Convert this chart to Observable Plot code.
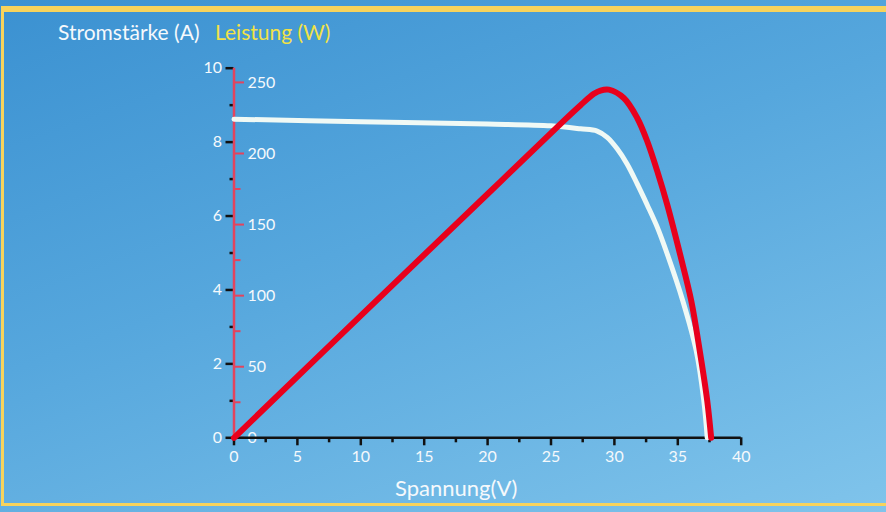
<!DOCTYPE html>
<html><head><meta charset="utf-8">
<script src="https://cdn.jsdelivr.net/npm/d3@7"></script>
<script src="https://cdn.jsdelivr.net/npm/@observablehq/plot@0.6"></script>
<style>
html,body{margin:0;padding:0;background:#4fa2da;}
#wrap{position:relative;width:886px;height:512px;overflow:hidden;
  background:linear-gradient(160deg,#3b91d1 0%,#56a7dd 45%,#80c4eb 100%);
  font-family:Lato,"DejaVu Sans",sans-serif;}
#frame{position:absolute;left:1px;top:6px;width:900px;height:491px;
  border-top:6px solid #f7d35c;border-left:3px solid #f7d35c;border-bottom:3px solid #f7d35c;}
.t{position:absolute;line-height:1;white-space:nowrap;}
#chart{position:absolute;left:0;top:0;}
</style></head>
<body>
<div id="wrap">
  <div id="frame"></div>
  <div id="chart"></div>
  <div class="t" id="t1" style="left:58px;top:21px;font-size:21px;color:#f5f9fc;">Stromstärke (A)</div>
  <div class="t" id="t2" style="left:215px;top:21px;font-size:21px;color:#f2e246;">Leistung (W)</div>
  <div class="t" id="t3" style="left:395px;top:477px;font-size:22px;color:#f5f9fc;">Spannung(V)</div>
</div>
<script>
// Current curve (I-V)
const voltI   = [0, 10, 20, 25, 27.33, 28.64, 29.43, 30.22, 31.0, 31.8, 32.59, 33.38, 34.16, 35.39, 36.45, 37.05, 37.32];
const current = [8.62, 8.55, 8.49, 8.44, 8.36, 8.30, 8.13, 7.82, 7.41, 6.87, 6.30, 5.70, 4.98, 3.71, 2.36, 1.01, 0];
// Power curve (P-V)
const voltP = [0, 10, 20, 26.0, 27.33, 28.38, 28.9, 29.56, 30.74, 31.8, 32.59, 33.38, 34.16, 35.21, 36.06, 36.73, 37.32, 37.63];
const power = [0, 86, 171.5, 223, 234, 242, 244.3, 244.9, 239, 225, 208.6, 187.6, 164.2, 128, 96.4, 61.3, 26.2, 0];
// Tick values
const xMajor = [0, 5, 10, 15, 20, 25, 30, 35, 40];
const xMinor = [2.5, 7.5, 12.5, 17.5, 22.5, 27.5, 32.5, 37.5];
const iMajor = [0, 2, 4, 6, 8, 10];
const iMinor = [1, 3, 5, 7, 9];
const pMajor = [0, 50, 100, 150, 200, 250];
const pMinor = [25, 75, 125, 175, 225];
const pMax = 260; // watts at top of axis (10 A)
const PS = pMax / 10;

const iData = voltI.map((v, i) => ({v, a: current[i]}));
const pData = voltP.map((v, i) => ({v, p: power[i]}));

const white = "#f5f9fc";
const chart = Plot.plot({
  width: 886, height: 512,
  marginLeft: 233.5, marginRight: 145.3, marginTop: 67.7, marginBottom: 74.7,
  x: {domain: [0, 40]},
  y: {domain: [0, 10]},
  style: {background: "transparent", overflow: "visible", fontFamily: "Lato, 'DejaVu Sans', sans-serif"},
  marks: [
    Plot.axisX(xMajor, {tickSize: 8, stroke: "#111", strokeWidth: 2.5, tickPadding: 5, fontSize: 16, fill: white, label: null}),
    Plot.axisX(xMinor, {tickSize: 5, stroke: "#111", strokeWidth: 2.5, tickFormat: () => "", label: null}),
    Plot.axisY(iMajor, {anchor: "left", tickSize: 8, stroke: "#111", strokeWidth: 2.5, tickPadding: 4, fontSize: 16, fill: white, label: null}),
    Plot.axisY(iMinor, {anchor: "left", tickSize: 4, stroke: "#111", strokeWidth: 2.5, tickFormat: () => "", label: null}),
    Plot.axisY(pMajor.map(p => p / PS), {anchor: "right", frameAnchor: "left", tickSize: 9.5, stroke: "#e2445e", strokeWidth: 2, tickPadding: 4, fontSize: 16, fill: white, tickFormat: d => String(Math.round(d * PS)), label: null}),
    Plot.axisY(pMinor.map(p => p / PS), {anchor: "right", frameAnchor: "left", tickSize: 6, stroke: "#e2445e", strokeWidth: 2, tickFormat: () => "", label: null}),
    Plot.ruleY([0], {stroke: "#111", strokeWidth: 2.5}),
    Plot.ruleX([0], {stroke: "#e2445e", strokeWidth: 2.5}),
    Plot.line(iData, {x: "v", y: "a", stroke: "#f0f9f5", strokeWidth: 5, curve: "catmull-rom"}),
    Plot.line(pData, {x: "v", y: d => d.p / PS, stroke: "#e8001c", strokeWidth: 6, curve: "catmull-rom"})
  ]
});
document.getElementById("chart").appendChild(chart);
</script>
</body></html>
